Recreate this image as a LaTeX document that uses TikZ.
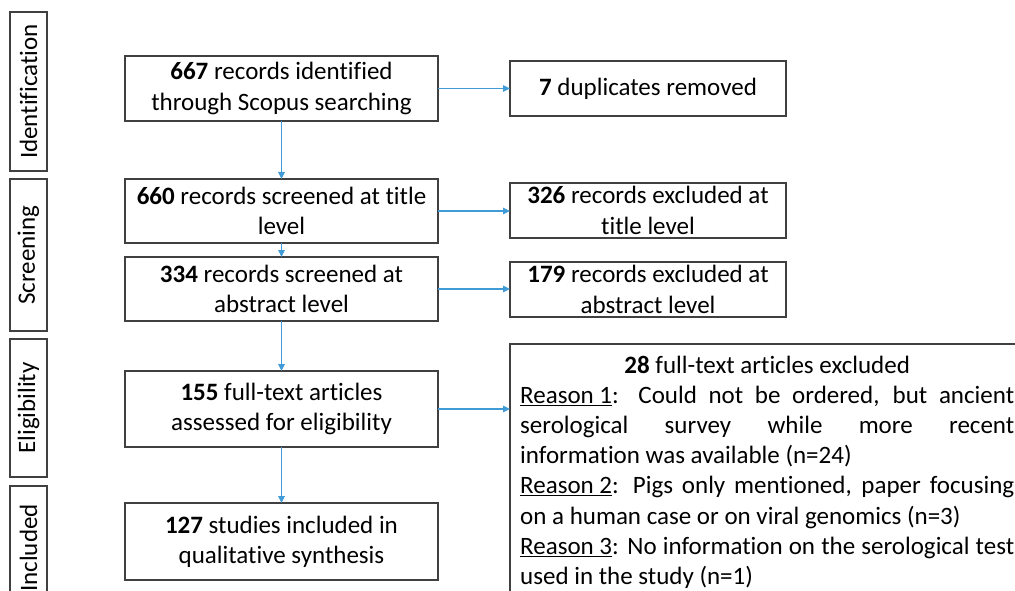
\documentclass[tikz,border=0pt]{standalone}
\usepackage{fontspec}
\setmainfont{Carlito}[Ligatures=NoCommon]
\usetikzlibrary{arrows.meta}
\definecolor{arrowblue}{RGB}{65,155,215}
\definecolor{boxgray}{RGB}{64,64,64}
\begin{document}
\begin{tikzpicture}[x=1pt,y=-1pt,
  every node/.style={font=\fontsize{25}{30.2}\selectfont},
  box/.style={draw=boxgray, line width=1.3pt, inner sep=0pt, outer sep=0pt, align=center},
  stage/.style={box, rotate=90, minimum height=37pt},
  mainbox/.style={box, minimum width=313pt},
  sidebox/.style={box, minimum width=276pt, minimum height=55pt},
  link/.style={draw=arrowblue, line width=1.2pt, -{Triangle[length=7pt,width=6.5pt]}}]
\useasboundingbox (0,0) rectangle (1015,591);
\clip (0,0) rectangle (1015,591);
% stage labels
\node[stage, minimum width=159pt] (sid) at (28.5,91.5) {Identification};
\node[stage, minimum width=152pt] (ssc) at (28.5,255) {Screening};
\node[stage, minimum width=138pt] (sel) at (28.5,408) {Eligibility};
\node[stage, minimum width=124pt] (sin) at (28.5,548) {Included};
% main column
\node[mainbox, minimum height=65pt] (b1) at (281.5,88.5) {\textbf{667} records identified\\through Scopus searching};
\node[mainbox, minimum height=64pt] (b2) at (281.5,211) {\textbf{660} records screened at title\\level};
\node[mainbox, minimum height=64pt] (b3) at (281.5,289) {\textbf{334} records screened at\\abstract level};
\node[mainbox, minimum height=76pt] (b4) at (281.5,409) {\textbf{155} full-text articles\\assessed for eligibility};
\node[mainbox, minimum height=77pt] (b5) at (281.5,541.5) {\textbf{127} studies included in\\qualitative synthesis};
% side column
\node[sidebox] (r1) at (648,88.5) {\textbf{7} duplicates removed};
\node[sidebox] (r2) at (648,210.5) {\textbf{326} records excluded at\\title level};
\node[sidebox] (r3) at (648,289.5) {\textbf{179} records excluded at\\abstract level};
\node[box, minimum width=520pt, minimum height=266pt] (r4) at (770,477) {};
\node[anchor=base west, inner sep=0pt] (r4t) at (520,373) {\parbox[t]{494pt}{%
\makebox[494pt][c]{\textbf{28} full-text articles excluded}\\
\makebox[494pt][s]{\underline{Reason 1}: Could not be ordered, but ancient}\\
\makebox[494pt][s]{serological survey while more recent}\\
information was available (n=24)\\
\makebox[494pt][s]{\underline{Reason 2}: Pigs only mentioned, paper focusing}\\
on a human case or on viral genomics (n=3)\\
\makebox[494pt][s]{\underline{Reason 3}: No information on the serological test}\\
used in the study (n=1)}};
% connectors
\draw[link] (b1.south) -- (b2.north);
\draw[link] (b2.south) -- (b3.north);
\draw[link] (b3.south) -- (b4.north);
\draw[link] (b4.south) -- (b5.north);
\draw[link] (b1.east) -- (r1.west |- b1.east);
\draw[link] (b2.east) -- (r2.west |- b2.east);
\draw[link] (b3.east) -- (r3.west |- b3.east);
\draw[link] (b4.east) -- (r4.west |- b4.east);
\end{tikzpicture}
\end{document}
